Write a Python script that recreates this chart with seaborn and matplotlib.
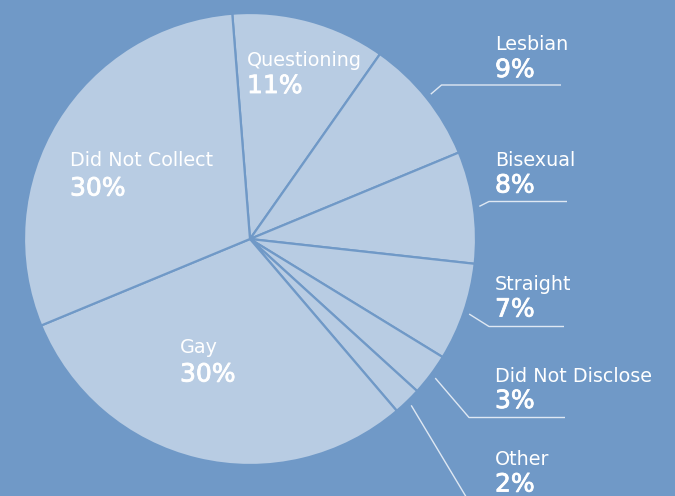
import numpy as np
import matplotlib
matplotlib.use("Agg")
import matplotlib.pyplot as plt
import matplotlib.patheffects as pe
import seaborn as sns

categories = ["Questioning", "Lesbian", "Bisexual", "Straight",
              "Did Not Disclose", "Other", "Gay", "Did Not Collect"]
values = [11, 9, 8, 7, 3, 2, 30, 30]
pct_labels = ["11%", "9%", "8%", "7%", "3%", "2%", "30%", "30%"]

sns.set_style("white")
plt.rcParams['font.family'] = ['DejaVu Sans']

BG = "#7099c7"
SLICE = "#b8cce3"
W, H = 675, 496

fig = plt.figure(figsize=(6.75, 4.96), dpi=100, facecolor=BG)
ax = fig.add_axes([0, 0, 1, 1])
ax.set_facecolor(BG)

cx, cy, R = 250, H - 239, 226
wedges, _ = ax.pie(values, startangle=94.5, counterclock=False,
                   center=(cx, cy), radius=R, frame=True,
                   colors=[SLICE] * len(values),
                   wedgeprops=dict(edgecolor=BG, linewidth=1.6))
ax.set_xlim(0, W)
ax.set_ylim(0, H)
ax.set_aspect('equal')
ax.axis('off')

def py(y):
    return H - y

name_fs, pct_fs = 13.8, 18
bold = [pe.withStroke(linewidth=0.6, foreground="white")]

inside = {"Questioning": (247, 65.5, 93),
          "Did Not Collect": (70, 166.5, 195.5),
          "Gay": (180, 353, 381.5)}
for i, cat in enumerate(categories):
    if cat in inside:
        x, yb1, yb2 = inside[cat]
        ax.text(x, py(yb1), cat, color="white", fontsize=name_fs,
                va='baseline', ha='left')
        ax.text(x, py(yb2), pct_labels[i], color="white", fontsize=pct_fs,
                va='baseline', ha='left', path_effects=bold)

outside = {"Lesbian": (49.5, 77, (441.5, 85), 561),
           "Bisexual": (166.5, 192.5, (489, 201.5), 567),
           "Straight": (290, 316.5, (489, 326.5), 564),
           "Did Not Disclose": (381.5, 408, (469, 417.5), 565),
           "Other": (465, 491.5, (471, 505), 565)}
LINE = "#dfe8f3"
for i, cat in enumerate(categories):
    if cat in outside:
        yb1, yb2, (ex, ey), lx = outside[cat]
        w = wedges[i]
        mid = np.deg2rad((w.theta1 + w.theta2) / 2)
        sx = cx + R * 1.025 * np.cos(mid)
        sy = cy + R * 1.025 * np.sin(mid)
        ax.plot([sx, ex, lx], [sy, py(ey), py(ey)], color=LINE, lw=1.0,
                solid_capstyle='butt', clip_on=True)
        ax.text(495, py(yb1), cat, color="white", fontsize=name_fs,
                va='baseline', ha='left')
        ax.text(495, py(yb2), pct_labels[i], color="white", fontsize=pct_fs,
                va='baseline', ha='left', path_effects=bold)

fig.savefig("out.png", dpi=100, facecolor=BG)
